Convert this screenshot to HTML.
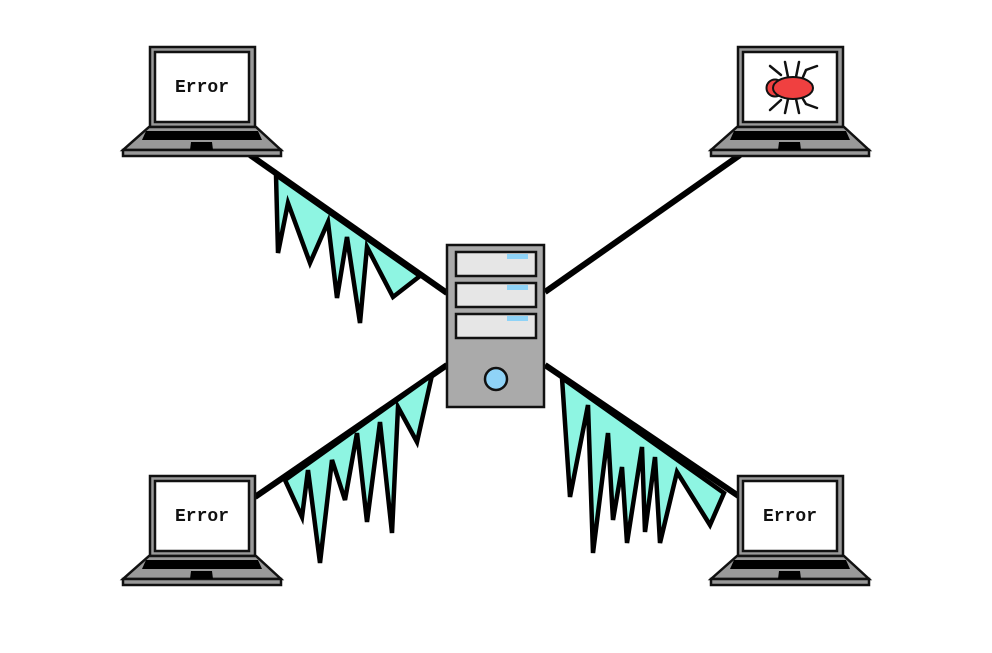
<!DOCTYPE html>
<html><head><meta charset="utf-8"><style>html,body{margin:0;padding:0;background:#fff;width:992px;height:653px;overflow:hidden}</style></head>
<body>
<svg width="992" height="653" viewBox="0 0 992 653" xmlns="http://www.w3.org/2000/svg">
<defs>
<g id="lap">
  <rect x="150" y="47" width="105" height="80" fill="#999" stroke="#111" stroke-width="2.5"/>
  <rect x="155" y="52" width="94" height="70" fill="#fff" stroke="#111" stroke-width="2.5"/>
  <polygon points="149,127 256,127 281,150 123,150" fill="#999" stroke="#111" stroke-width="2.5"/>
  <rect x="123" y="150" width="158" height="6" fill="#999" stroke="#111" stroke-width="2.5"/>
  <polygon points="146,131 258,131 262,140 142,140" fill="#000"/>
  <polygon points="191,142 212,142 213,150 190,150" fill="#000"/>
</g>
</defs>
<g stroke="#000" stroke-width="6" fill="none">
  <line x1="250" y1="155" x2="447" y2="293"/>
  <line x1="740" y1="155" x2="545" y2="292"/>
  <line x1="255" y1="497" x2="447" y2="365"/>
  <line x1="545" y1="365" x2="740" y2="497"/>
</g>
<g fill="#8ef5e2" stroke="#000" stroke-width="4.5" stroke-linejoin="miter">
  <polygon points="276,175 278,253 288,203 310,263 328,222 337,298 347,237 360,323 367,247 393,297 420,276"/>
  <polygon points="285,480 302,517 308,470 320,563 332,460 345,500 357,433 367,522 380,422 392,533 398,407 417,442 432,375"/>
  <polygon points="562,378 570,497 588,405 593,553 608,433 613,520 622,467 627,543 642,447 645,532 655,457 660,543 677,472 710,525 724,493"/>
</g>
<use href="#lap"/>
<use href="#lap" transform="translate(588,0)"/>
<use href="#lap" transform="translate(0,429)"/>
<use href="#lap" transform="translate(588,429)"/>
<g font-family="Liberation Mono, monospace" font-weight="bold" font-size="18" fill="#111" text-anchor="middle">
  <text x="202" y="92">Error</text>
  <text x="202" y="521">Error</text>
  <text x="790" y="521">Error</text>
</g>
<g stroke="#111" stroke-width="2.5" stroke-linecap="round" fill="none">
  <line x1="770" y1="66" x2="781" y2="75"/>
  <line x1="785" y1="62" x2="788" y2="77"/>
  <line x1="799" y1="62" x2="796" y2="77"/>
  <path d="M803,77 L806,70 L817,66"/>
  <line x1="770" y1="110" x2="781" y2="100"/>
  <line x1="785" y1="113" x2="788" y2="99"/>
  <line x1="799" y1="113" x2="796" y2="99"/>
  <path d="M803,99 L806,104 L817,108"/>
</g>
<circle cx="775" cy="88" r="8.5" fill="#f04040" stroke="#111" stroke-width="2"/>
<ellipse cx="793" cy="88" rx="20" ry="11" fill="#f04040" stroke="#111" stroke-width="2"/>
<rect x="447" y="245" width="97" height="162" fill="#aaa" stroke="#111" stroke-width="2.5"/>
<g fill="#e6e6e6" stroke="#111" stroke-width="2.5">
  <rect x="456" y="252" width="80" height="24"/>
  <rect x="456" y="283" width="80" height="24"/>
  <rect x="456" y="314" width="80" height="24"/>
</g>
<g fill="#8fd3f7">
  <rect x="507" y="254" width="21" height="5"/>
  <rect x="507" y="285" width="21" height="5"/>
  <rect x="507" y="316" width="21" height="5"/>
</g>
<circle cx="496" cy="379" r="11" fill="#8fd3f7" stroke="#111" stroke-width="2.5"/>
</svg>
</body></html>
